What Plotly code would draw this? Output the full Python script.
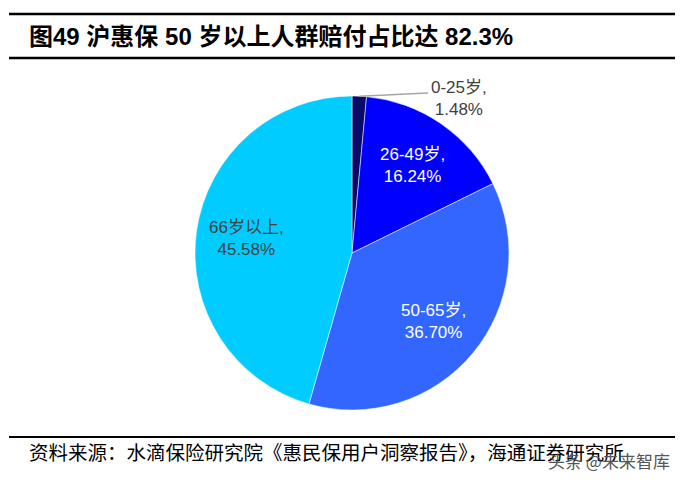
import math
import plotly.graph_objects as go

labels = ["0-25岁", "26-49岁", "50-65岁", "66岁以上"]
values = [1.48, 16.24, 36.70, 45.58]
colors = ["#0A0A6B", "#0000FF", "#3366FF", "#00CCFF"]
text_colors = ["#404040", "#FFFFFF", "#FFFFFF", "#404040"]

title = "图49 沪惠保 50 岁以上人群赔付占比达 82.3%"
source = "资料来源：水滴保险研究院《惠民保用户洞察报告》，海通证券研究所"
watermark = "头条 @未来智库"

W, H = 683, 483
OFF = 8  # page body margin


def X(px):
    return (px - OFF) / W


def Y(py):
    return 1 - (py - OFF) / H


cx, cy, r = 352, 253, 157
LABEL_FONT = "Liberation Sans, Arial, Noto Sans CJK SC"

texts = [f"{l},<br>{v:.2f}%" for l, v in zip(labels, values)]

fig = go.Figure()
fig.add_trace(go.Pie(
    labels=labels,
    values=values,
    textinfo="none",
    sort=False,
    direction="clockwise",
    rotation=0,
    marker=dict(colors=colors, line=dict(color="#FFFFFF", width=0.5)),
    hoverinfo="label+percent",
    showlegend=False,
    domain=dict(x=[X(cx - r), X(cx + r)], y=[Y(cy + r), Y(cy - r)]),
))

# data labels placed along each slice's mid-angle
total = sum(values)
cum = 0.0
mids = []
for v in values:
    mids.append((cum + v / 2) / total * 2 * math.pi)
    cum += v

for i, (t, a, c) in enumerate(zip(texts, mids, text_colors)):
    if i == 0:
        # outside label with leader line
        sx, sy = cx + r * math.sin(a), cy - r * math.cos(a)
        fig.add_shape(type="line", xref="paper", yref="paper",
                      x0=X(sx), y0=Y(sy), x1=X(428), y1=Y(93),
                      line=dict(color="#A6A6A6", width=1.5))
        lx, ly = 459, 99
    else:
        lx, ly = cx + 0.68 * r * math.sin(a), cy - 0.68 * r * math.cos(a)
    fig.add_annotation(
        x=X(lx), y=Y(ly), xref="paper", yref="paper",
        xanchor="center", yanchor="middle",
        text=t, showarrow=False, align="center",
        font=dict(family=LABEL_FONT, size=17, color=c),
    )

# header / footer rules
for yy, w in [(14, 2.5), (58, 2.5), (437, 2)]:
    fig.add_shape(type="line", xref="paper", yref="paper",
                  x0=X(9), x1=1, y0=Y(yy), y1=Y(yy),
                  line=dict(color="#000000", width=w))

fig.add_annotation(
    x=X(27), y=Y(37), xref="paper", yref="paper", xanchor="left", yanchor="middle",
    text=f"<b>{title}</b>", showarrow=False,
    font=dict(family="Liberation Sans, Arial, Noto Sans CJK SC", size=24, color="#000000"),
)
fig.add_annotation(
    x=X(27), y=Y(451), xref="paper", yref="paper", xanchor="left", yanchor="middle",
    text=source, showarrow=False,
    font=dict(family="Noto Sans CJK SC", size=19.5, color="#000000"),
)
fig.add_annotation(
    x=X(672), y=Y(460), xref="paper", yref="paper", xanchor="right", yanchor="middle",
    text=watermark, showarrow=False,
    font=dict(family="Noto Sans CJK SC", size=17, color="#555555"),
)

fig.update_layout(
    width=W, height=H,
    margin=dict(l=0, r=0, t=0, b=0),
    paper_bgcolor="#FFFFFF",
    plot_bgcolor="#FFFFFF",
)

fig.write_html("out.html")
